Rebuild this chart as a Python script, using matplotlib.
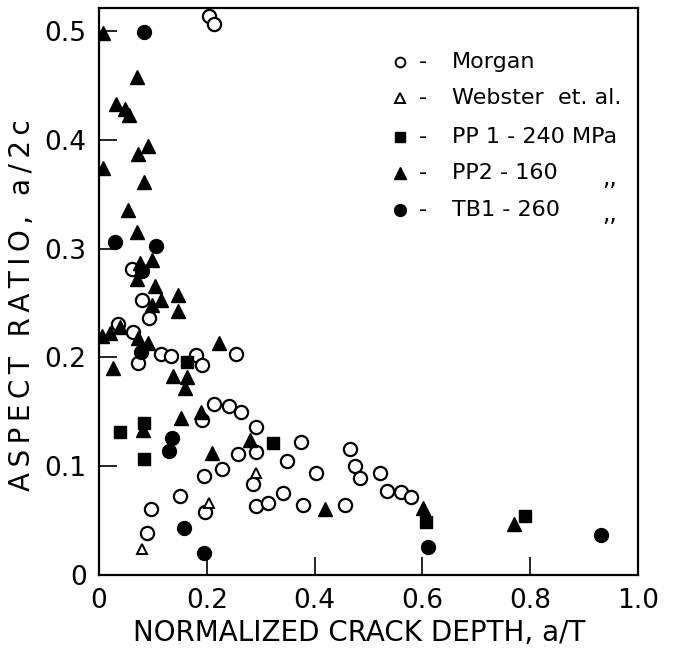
import matplotlib
matplotlib.use("Agg")
import matplotlib.pyplot as plt

plt.rcParams['font.family'] = ['DejaVu Sans']

# Morgan (open circles)
morgan_x = [0.204, 0.213, 0.061, 0.079, 0.092, 0.035, 0.063, 0.072, 0.115, 0.133,
            0.255, 0.179, 0.191, 0.213, 0.241, 0.263, 0.191, 0.292, 0.257, 0.292,
            0.348, 0.229, 0.194, 0.285, 0.150, 0.341, 0.292, 0.313, 0.096, 0.196,
            0.089, 0.374, 0.403, 0.379, 0.457, 0.465, 0.474, 0.485, 0.522, 0.535,
            0.561, 0.579]
morgan_y = [0.514, 0.506, 0.281, 0.253, 0.236, 0.231, 0.223, 0.195, 0.203, 0.201,
            0.203, 0.202, 0.193, 0.157, 0.155, 0.150, 0.142, 0.136, 0.111, 0.113,
            0.105, 0.097, 0.091, 0.084, 0.073, 0.075, 0.063, 0.066, 0.061, 0.058,
            0.039, 0.122, 0.094, 0.064, 0.064, 0.116, 0.100, 0.089, 0.094, 0.077,
            0.076, 0.072]

# Webster et. al. (open triangles)
webster_x = [0.292, 0.204, 0.079]
webster_y = [0.094, 0.066, 0.024]

# PP1 - 240 MPa (filled squares)
pp1_x = [0.039, 0.083, 0.083, 0.163, 0.322, 0.607, 0.790]
pp1_y = [0.131, 0.140, 0.107, 0.196, 0.121, 0.049, 0.054]

# PP2 - 160 MPa (filled triangles)
pp2_x = [0.008, 0.070, 0.031, 0.048, 0.056, 0.090, 0.072, 0.007, 0.083, 0.054,
         0.070, 0.076, 0.098, 0.070, 0.104, 0.146, 0.146, 0.115, 0.098, 0.005,
         0.020, 0.039, 0.072, 0.091, 0.222, 0.026, 0.137, 0.163, 0.159, 0.152,
         0.081, 0.281, 0.209, 0.420, 0.602, 0.770, 0.190]
pp2_y = [0.498, 0.458, 0.433, 0.428, 0.423, 0.394, 0.387, 0.374, 0.361, 0.335,
         0.315, 0.287, 0.289, 0.272, 0.266, 0.257, 0.243, 0.253, 0.248, 0.220,
         0.222, 0.228, 0.218, 0.213, 0.213, 0.190, 0.183, 0.182, 0.172, 0.144,
         0.133, 0.124, 0.112, 0.061, 0.062, 0.047, 0.150]

# TB1 - 260 MPa (filled circles)
tb1_x = [0.083, 0.029, 0.105, 0.079, 0.077, 0.135, 0.129, 0.157, 0.194, 0.611, 0.931]
tb1_y = [0.499, 0.306, 0.302, 0.279, 0.205, 0.126, 0.114, 0.043, 0.020, 0.026, 0.037]

legend_labels = ["Morgan", "Webster  et. al.", "PP 1 - 240 MPa", "PP2 - 160", "TB1 - 260"]
ditto_rows = [3, 4]

x_ticks = [0, 0.2, 0.4, 0.6, 0.8, 1.0]
x_ticklabels = ["0", "0.2", "0.4", "0.6", "0.8", "1.0"]
y_ticks = [0, 0.1, 0.2, 0.3, 0.4, 0.5]
y_ticklabels = ["0", "0.1", "0.2", "0.3", "0.4", "0.5"]

x_title = "NORMALIZED CRACK DEPTH, a/T"
y_title = "ASPECT RATIO, a/2c"


def spaced(s):
    """Open up the lettering with thin spaces between glyphs."""
    return "\u2009".join(s)


fig = plt.figure(figsize=(6.75, 6.49), dpi=100)
ax = fig.add_axes([0.1467, 0.114, 0.7985, 0.8737])

ms = 9.5
ax.plot(morgan_x, morgan_y, 'o', ms=ms, mfc='white', mec='black', mew=1.6, ls='none', zorder=3)
ax.plot(webster_x, webster_y, '^', ms=7, mfc='white', mec='black', mew=1.4, ls='none', zorder=3)
ax.plot(pp1_x, pp1_y, 's', ms=8.5, mfc='black', mec='black', ls='none', zorder=4)
ax.plot(pp2_x, pp2_y, '^', ms=10, mfc='black', mec='black', ls='none', zorder=4)
ax.plot(tb1_x, tb1_y, 'o', ms=10, mfc='black', mec='black', ls='none', zorder=4)

ax.set_xlim(0, 1.0)
ax.set_ylim(0, 0.521)
ax.set_xticks(x_ticks)
ax.set_xticklabels(x_ticklabels)
ax.set_yticks(y_ticks)
ax.set_yticklabels(y_ticklabels)
ax.tick_params(direction='in', length=13, width=1.2, labelsize=19, pad=9)

for s in ax.spines.values():
    s.set_linewidth(1.6)

ax.set_xlabel(x_title, fontsize=20)
ax.xaxis.set_label_coords(0.482, -0.103, transform=ax.transAxes)
ax.xaxis.label.set_va('center')
ax.set_ylabel(spaced(y_title), fontsize=20)
ax.yaxis.set_label_coords(-0.142, 0.476, transform=ax.transAxes)
ax.yaxis.label.set_va('center')

# Key drawn inside the axes
legend_markers = [
    dict(marker='o', ms=7, mfc='white', mec='black', mew=1.4),
    dict(marker='^', ms=7, mfc='white', mec='black', mew=1.4),
    dict(marker='s', ms=7.5, mfc='black', mec='black'),
    dict(marker='^', ms=8, mfc='black', mec='black'),
    dict(marker='o', ms=8.5, mfc='black', mec='black'),
]
row_y = [0.905, 0.841, 0.772, 0.709, 0.644]
for i, (lab, mk) in enumerate(zip(legend_labels, legend_markers)):
    yy = row_y[i]
    ax.plot([0.558], [yy], ls='none', transform=ax.transAxes, clip_on=False, **mk)
    ax.text(0.601, yy, "-", transform=ax.transAxes, ha='center', va='center', fontsize=16)
    ax.text(0.654, yy, lab, transform=ax.transAxes, ha='left', va='center', fontsize=16)
    if i in ditto_rows:
        ax.text(0.948, yy - 0.008, ",,", transform=ax.transAxes, ha='center', va='center',
                fontsize=17)

fig.savefig("out.png", dpi=100)
